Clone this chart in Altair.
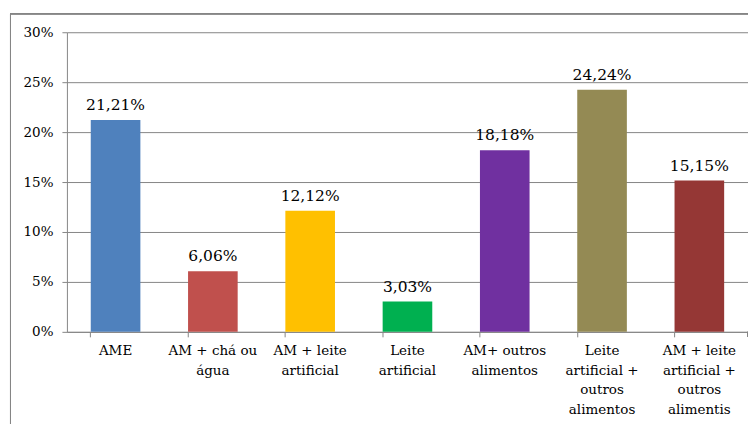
import altair as alt
import pandas as pd

categories = ["AME", "AM + chá ou água", "AM + leite artificial", "Leite artificial",
              "AM+ outros alimentos", "Leite artificial + outros alimentos",
              "AM + leite artificial + outros alimentis"]
label_lines = [["AME"], ["AM + chá ou", "água"], ["AM + leite", "artificial"],
               ["Leite", "artificial"], ["AM+ outros", "alimentos"],
               ["Leite", "artificial +", "outros", "alimentos"],
               ["AM + leite", "artificial +", "outros", "alimentis"]]
values = [21.21, 6.06, 12.12, 3.03, 18.18, 24.24, 15.15]
value_text = ["21,21%", "6,06%", "12,12%", "3,03%", "18,18%", "24,24%", "15,15%"]
colors = ["#4F81BD", "#C0504D", "#FFC000", "#00B050", "#7030A0", "#948A54", "#953735"]

df = pd.DataFrame({"cat": categories, "val": [v / 100 for v in values], "txt": value_text})

mapping = "{" + ",".join(
    "'" + c + "':[" + ",".join("'" + l + "'" for l in ls) + "]"
    for c, ls in zip(categories, label_lines)) + "}"

FONT = "DejaVu Serif"
GRID = "#868686"
xscale = alt.Scale(paddingInner=0.49, paddingOuter=0.245)

xenc = alt.X("cat:N", sort=categories, title=None, scale=xscale,
             axis=alt.Axis(labelExpr=mapping + "[datum.label]", labelAngle=0,
                           labelFont=FONT, labelFontSize=13.5, labelColor="#000",
                           labelPadding=12, labelLineHeight=19.5, ticks=False,
                           domainColor=GRID, labelBaseline="top", orient="bottom"))
yenc = alt.Y("val:Q", title=None,
             scale=alt.Scale(domain=[0, 0.3]),
             axis=alt.Axis(format=".0%", values=[0, 0.05, 0.1, 0.15, 0.2, 0.25, 0.3],
                           labelFont=FONT, labelFontSize=13.5, labelColor="#000",
                           tickColor=GRID, tickSize=5, labelPadding=9,
                           gridColor=GRID, domainColor=GRID))

bars = alt.Chart(df).mark_bar().encode(
    x=xenc, y=yenc,
    color=alt.Color("cat:N", sort=categories,
                    scale=alt.Scale(domain=categories, range=colors), legend=None))

texts = alt.Chart(df).mark_text(baseline="bottom", dy=-7, font=FONT, fontSize=15.5,
                                color="#000").encode(
    x=alt.X("cat:N", sort=categories, scale=xscale, axis=None),
    y="val:Q", text="txt:N")

ticks = alt.Chart(df).mark_bar(opacity=0).encode(
    x=alt.X("cat:N", sort=categories, title=None, scale=xscale,
            axis=alt.Axis(bandPosition=0, labels=False, domain=False, ticks=True,
                          tickSize=5, tickColor=GRID, orient="bottom", grid=False)),
    y="val:Q")

end_tick = alt.Chart(df).mark_rule(color=GRID).encode(
    x=alt.value(682), y=alt.value(300), y2=alt.value(305))

frame = alt.Chart(df).mark_rect(fill=None, stroke=GRID, strokeWidth=1).encode(
    x=alt.value(-56.5), x2=alt.value(760), y=alt.value(-18.5), y2=alt.value(430))

chart = alt.layer(frame, bars, texts, ticks, end_tick).resolve_axis(x="independent").properties(
    width=682, height=300,
    autosize=alt.AutoSizeParams(type="none"),
    padding={"left": 59, "top": 24, "right": 0, "bottom": 92},
).configure_view(stroke=None).configure_axis(gridWidth=1)

chart.save("out.html", embed_options={"renderer": "svg", "actions": False})
